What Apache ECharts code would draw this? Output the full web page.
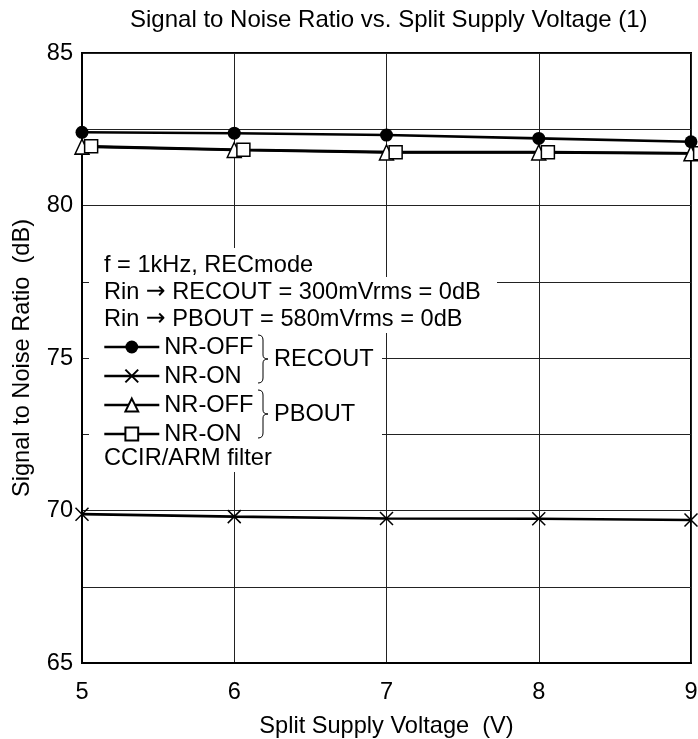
<!DOCTYPE html>
<html><head><meta charset="utf-8">
<script src="https://cdn.jsdelivr.net/npm/echarts@6/dist/echarts.min.js"></script>
<style>html,body{margin:0;padding:0;background:#fff}#c{width:698px;height:739px}</style>
</head><body><div id="c"></div>
<script>
const titleText = 'Signal to Noise Ratio vs. Split Supply Voltage (1)';
const xAxisName = 'Split Supply Voltage  (V)';
const yAxisName = 'Signal to Noise Ratio  (dB)';
const voltages = [5, 6, 7, 8, 9];
const voltagesSquare = [5.06, 6.06, 7.06, 8.06, 9.06];
const recoutNrOff = [82.40, 82.37, 82.31, 82.20, 82.09];
const recoutNrOn = [69.88, 69.80, 69.74, 69.73, 69.69];
const pboutNrOff = [81.93, 81.82, 81.74, 81.74, 81.71];
const pboutNrOn = [81.94, 81.83, 81.75, 81.75, 81.71];
const yTickLabels = [65, 70, 75, 80, 85];
const seriesNames = ['RECOUT NR-OFF', 'RECOUT NR-ON', 'PBOUT NR-OFF', 'PBOUT NR-ON'];
const conditionLines = ['f = 1kHz, RECmode', 'Rin {a|\u2192} RECOUT = 300mVrms = 0dB', 'Rin {a|\u2192} PBOUT = 580mVrms = 0dB'];
const filterNote = 'CCIR/ARM filter';
const groupLabels = ['RECOUT', 'PBOUT'];

const FF = '"Liberation Sans", Arial, Helvetica, sans-serif';
const FS = 23.6;
const chart = echarts.init(document.getElementById('c'));

function mk(name, xs, ys, symbol, size, fill, bw) {
  return {
    type: 'line', name: name,
    data: xs.map((x, i) => [x, ys[i]]),
    symbol: symbol, symbolSize: size, clip: false, showAllSymbol: true,
    lineStyle: { color: '#000', width: 2.6 },
    itemStyle: { color: fill, borderColor: '#000', borderWidth: bw },
    emphasis: { disabled: true }, animation: false
  };
}

const braceStyle = { stroke: '#000', fill: 'none', lineWidth: 1 };
function brace(y0, y1) {
  const ym = (y0 + y1) / 2;
  const els = [
    { type: 'bezierCurve', shape: { x1: 258, y1: y0, cpx1: 263, cpy1: y0, x2: 263, y2: y0 + 5 } },
    { type: 'line', shape: { x1: 263, y1: y0 + 5, x2: 263, y2: ym - 4 } },
    { type: 'bezierCurve', shape: { x1: 263, y1: ym - 4, cpx1: 263, cpy1: ym, x2: 268, y2: ym } },
    { type: 'bezierCurve', shape: { x1: 268, y1: ym, cpx1: 263, cpy1: ym, x2: 263, y2: ym + 4 } },
    { type: 'line', shape: { x1: 263, y1: ym + 4, x2: 263, y2: y1 - 5 } },
    { type: 'bezierCurve', shape: { x1: 263, y1: y1 - 5, cpx1: 263, cpy1: y1, x2: 258, y2: y1 } }
  ];
  return els.map(e => Object.assign(e, { z: 11, silent: true, style: braceStyle }));
}

function txt(x, y, s) {
  return { type: 'text', x: x, y: y, z: 11, silent: true,
    style: { text: s, fontSize: FS, fontFamily: FF, fill: '#000', verticalAlign: 'middle',
      rich: { a: { fontSize: FS, fontFamily: '"DejaVu Sans", sans-serif', fill: '#000' } } } };
}

const graphics = [
  { type: 'rect', shape: { x: 89, y: 248, width: 293, height: 224 }, style: { fill: '#fff' }, z: 10, silent: true },
  { type: 'rect', shape: { x: 89, y: 277, width: 408, height: 56 }, style: { fill: '#fff' }, z: 10, silent: true }
];
[265, 292, 319].forEach((y, i) => graphics.push(txt(104, y, conditionLines[i])));
graphics.push(txt(104, 458, filterNote));
graphics.push.apply(graphics, brace(335, 383));
graphics.push.apply(graphics, brace(390, 438));
graphics.push(txt(274, 359, groupLabels[0]));
graphics.push(txt(274, 414, groupLabels[1]));

chart.setOption({
  animation: false,
  backgroundColor: '#fff',
  title: { text: titleText, left: 130, top: 8, padding: 0,
    textStyle: { fontSize: 24, fontWeight: 'normal', color: '#000', fontFamily: FF } },
  grid: { left: 82, right: 7, top: 53, bottom: 76, show: true, borderColor: '#000', borderWidth: 2,
    backgroundColor: 'transparent', containLabel: false, outerBoundsMode: 'none' },
  xAxis: {
    type: 'value', min: 5, max: 9, interval: 1,
    name: xAxisName, nameLocation: 'middle', nameGap: 51,
    nameTextStyle: { fontSize: FS, color: '#000', fontFamily: FF },
    axisLine: { lineStyle: { color: '#000', width: 2 } },
    axisTick: { show: false },
    axisLabel: { fontSize: FS, color: '#000', fontFamily: FF, margin: 17 },
    splitLine: { show: true, lineStyle: { color: '#222', width: 1 } }
  },
  yAxis: {
    type: 'value', min: 65, max: 85, interval: 2.5,
    name: yAxisName, nameLocation: 'middle', nameGap: 48,
    nameTextStyle: { fontSize: FS, color: '#000', fontFamily: FF },
    axisLine: { show: true, lineStyle: { color: '#000', width: 2 } },
    axisTick: { show: false },
    axisLabel: { fontSize: FS, color: '#000', fontFamily: FF, margin: 9,
      formatter: v => (yTickLabels.indexOf(v) >= 0 ? String(v) : '') },
    splitLine: { show: true, lineStyle: { color: '#222', width: 1 } }
  },
  legend: {
    orient: 'vertical', left: 103, top: 335, padding: 0, itemGap: 5,
    itemWidth: 55, itemHeight: 16, selectedMode: false, z: 20,
    data: seriesNames, formatter: n => n.split(' ')[1],
    lineStyle: { width: 2.6, color: '#000' },
    textStyle: { fontSize: FS, color: '#000', fontFamily: FF }
  },
  graphic: graphics,
  series: [
    mk(seriesNames[0], voltages, recoutNrOff, 'circle', 13, '#000', 0),
    mk(seriesNames[1], voltages, recoutNrOn, 'path://M0,0L10,10M10,0L0,10', 13, '#000', 1.5),
    mk(seriesNames[2], voltages, pboutNrOff, 'triangle', [14, 15], '#fff', 1.5),
    mk(seriesNames[3], voltagesSquare, pboutNrOn, 'rect', 13, '#fff', 1.5)
  ]
});
</script></body></html>
